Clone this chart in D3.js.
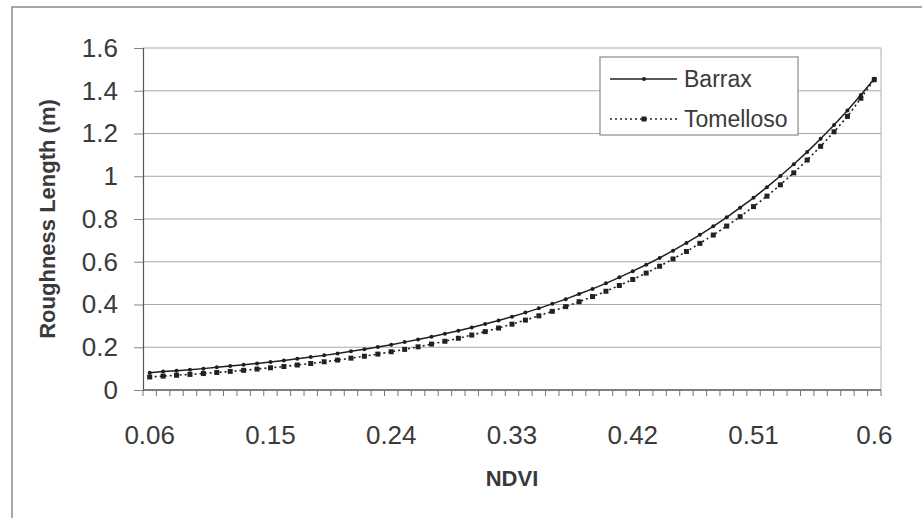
<!DOCTYPE html>
<html>
<head>
<meta charset="utf-8">
<script src="https://cdn.jsdelivr.net/npm/d3@7/dist/d3.min.js"></script>
<style>
	body { margin: 0; background: #fff; }
	svg text { font-family: "Liberation Sans", Arial, sans-serif; fill: #3a3a3a; }
</style>
</head>
<body>
<div id="chart"></div>
<script>
// NDVI categories 0.06 .. 0.60, step 0.01
var ndvi = d3.range(6, 61).map(function(d) { return (d / 100).toFixed(2); });

var barrax = [
	0.081, 0.086, 0.090, 0.095, 0.100, 0.106, 0.112, 0.118, 0.124, 0.131,
	0.138, 0.146, 0.154, 0.162, 0.171, 0.181, 0.191, 0.201, 0.212, 0.224,
	0.236, 0.249, 0.263, 0.277, 0.292, 0.309, 0.325, 0.343, 0.362, 0.382,
	0.403, 0.425, 0.449, 0.473, 0.499, 0.527, 0.556, 0.586, 0.618, 0.652,
	0.688, 0.726, 0.766, 0.808, 0.853, 0.899, 0.949, 1.001, 1.056, 1.114,
	1.175, 1.240, 1.308, 1.380, 1.456
];

var tomelloso = [
	0.061, 0.065, 0.069, 0.073, 0.077, 0.082, 0.087, 0.092, 0.098, 0.104,
	0.110, 0.117, 0.124, 0.132, 0.140, 0.149, 0.158, 0.168, 0.179, 0.190,
	0.202, 0.215, 0.228, 0.242, 0.257, 0.273, 0.290, 0.308, 0.327, 0.347,
	0.368, 0.390, 0.413, 0.437, 0.462, 0.489, 0.517, 0.547, 0.579, 0.613,
	0.648, 0.686, 0.725, 0.767, 0.811, 0.858, 0.907, 0.960, 1.016, 1.076,
	1.140, 1.208, 1.280, 1.365, 1.452
];

var xTickLabels = ["0.06", "0.15", "0.24", "0.33", "0.42", "0.51", "0.60"];
var yTicks = [0, 0.2, 0.4, 0.6, 0.8, 1, 1.2, 1.4, 1.6];

var margins = {top: 48, bottom: 128, left: 143, right: 41};
var width = 922 - margins.left - margins.right,
	height = 518 - margins.top - margins.bottom;

var svg = d3.select("#chart").append("svg")
	.attr("width", 922)
	.attr("height", 518);

// outer chart frame (scan shows only top and left edges)
svg.append("path")
	.attr("d", "M12,518V7H922")
	.attr("fill", "none")
	.attr("stroke", "#8a8a8a")
	.attr("stroke-width", 1.5);

var g = svg.append("g")
	.attr("transform", "translate(" + margins.left + "," + margins.top + ")");

var x = d3.scaleBand().domain(ndvi).range([0, width]).padding(0);
var y = d3.scaleLinear().domain([0, 1.6]).range([height, 0]);
var cx = function(i) { return x(ndvi[i]) + x.bandwidth() / 2; };

// gridlines
g.selectAll(".grid")
	.data(yTicks.filter(function(d) { return d > 0; }))
.enter().append("line")
	.attr("class", "grid")
	.attr("x1", 0).attr("x2", width)
	.attr("y1", function(d) { return y(d); })
	.attr("y2", function(d) { return y(d); })
	.attr("stroke", "#a8a8a8")
	.attr("stroke-width", 1);

// right edge of plot area
g.append("line")
	.attr("x1", width).attr("x2", width)
	.attr("y1", 0).attr("y2", height)
	.attr("stroke", "#b0b0b0");

// y axis
var yAxis = g.append("g")
	.call(d3.axisLeft(y).tickValues(yTicks).tickSize(9).tickPadding(16)
		.tickFormat(function(d) { return String(+d.toFixed(1)); }));
yAxis.select(".domain").attr("stroke", "#555").attr("stroke-width", 1.2);
yAxis.selectAll(".tick line").attr("stroke", "#888");
yAxis.selectAll("text").style("font-size", "26px").attr("fill", "#3a3a3a");

// x axis: ticks between every category
var xAxis = g.append("g").attr("transform", "translate(0," + height + ")");
xAxis.append("line")
	.attr("x1", 0).attr("x2", width)
	.attr("stroke", "#555").attr("stroke-width", 1.4);
xAxis.selectAll(".mtick")
	.data(ndvi.concat(["end"]))
.enter().append("line")
	.attr("class", "mtick")
	.attr("x1", function(d) { return d === "end" ? width : x(d); })
	.attr("x2", function(d) { return d === "end" ? width : x(d); })
	.attr("y1", 0).attr("y2", 6)
	.attr("stroke", "#777");

xAxis.selectAll(".xlab")
	.data(xTickLabels)
.enter().append("text")
	.attr("class", "xlab")
	.attr("x", function(d) { return x(d) + x.bandwidth() / 2; })
	.attr("y", 54)
	.attr("text-anchor", "middle")
	.style("font-size", "26px")
	.text(function(d) { return String(+d); });

// axis titles
svg.append("text")
	.attr("x", margins.left + width / 2)
	.attr("y", 486)
	.attr("text-anchor", "middle")
	.style("font-size", "22px")
	.style("font-weight", "bold")
	.text("NDVI");

svg.append("text")
	.attr("transform", "translate(55," + (margins.top + height / 2) + ") rotate(-90)")
	.attr("text-anchor", "middle")
	.style("font-size", "22px")
	.style("font-weight", "bold")
	.text("Roughness Length (m)");

// series
var line = d3.line()
	.x(function(d, i) { return cx(i); })
	.y(function(d) { return y(d); });

g.append("path")
	.datum(tomelloso)
	.attr("d", line)
	.attr("fill", "none")
	.attr("stroke", "#222")
	.attr("stroke-width", 1.6)
	.attr("stroke-dasharray", "2,3");

g.selectAll(".tmark")
	.data(tomelloso)
.enter().append("rect")
	.attr("class", "tmark")
	.attr("x", function(d, i) { return cx(i) - 2.5; })
	.attr("y", function(d) { return y(d) - 2.5; })
	.attr("width", 5).attr("height", 5)
	.attr("fill", "#222");

g.append("path")
	.datum(barrax)
	.attr("d", line)
	.attr("fill", "none")
	.attr("stroke", "#1e1e1e")
	.attr("stroke-width", 1.5);

g.selectAll(".bmark")
	.data(barrax)
.enter().append("circle")
	.attr("class", "bmark")
	.attr("cx", function(d, i) { return cx(i); })
	.attr("cy", function(d) { return y(d); })
	.attr("r", 2)
	.attr("fill", "#1e1e1e");

// legend
var legend = svg.append("g").attr("transform", "translate(600,57)");
legend.append("rect")
	.attr("width", 198).attr("height", 78)
	.attr("fill", "#fff")
	.attr("stroke", "#8a8a8a")
	.attr("stroke-width", 1.2);

var legendItems = [
	{name: "Barrax", dash: null},
	{name: "Tomelloso", dash: "2,3"}
];

var item = legend.selectAll(".item")
	.data(legendItems)
.enter().append("g")
	.attr("transform", function(d, i) { return "translate(0," + (22 + i * 40) + ")"; });

item.append("line")
	.attr("x1", 10).attr("x2", 77)
	.attr("stroke", "#222")
	.attr("stroke-width", 1.5)
	.attr("stroke-dasharray", function(d) { return d.dash; });

item.each(function(d) {
	var s = d3.select(this);
	if (d.dash) {
		s.append("rect").attr("x", 41.5).attr("y", -2.5).attr("width", 5).attr("height", 5).attr("fill", "#222");
	} else {
		s.append("circle").attr("cx", 44).attr("r", 2).attr("fill", "#222");
	}
});

item.append("text")
	.attr("x", 84)
	.attr("y", 8)
	.style("font-size", "23px")
	.text(function(d) { return d.name; });
</script>
</body>
</html>
